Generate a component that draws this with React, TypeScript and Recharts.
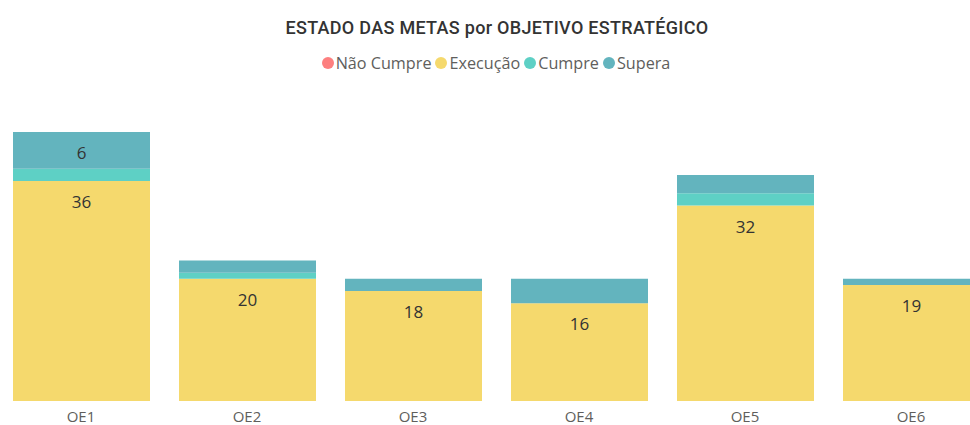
import React from 'react';
import { BarChart, Bar, XAxis, YAxis, LabelList, Legend } from 'recharts';

const categories = ['OE1', 'OE2', 'OE3', 'OE4', 'OE5', 'OE6'];
const naoCumpre = [0, 0, 0, 0, 0, 0];
const execucao = [36, 20, 18, 16, 32, 19];
const cumpre = [2, 1, 0, 0, 2, 0];
const supera = [6, 2, 2, 4, 3, 1];

const seriesNames = ['Não Cumpre', 'Execução', 'Cumpre', 'Supera'];
const seriesKeys = ['naoCumpre', 'execucao', 'cumpre', 'supera'];
const seriesColors = ['#FD7F7F', '#F5D96D', '#5ED0C5', '#63B4BE'];

const data = categories.map((c, i) => ({
  name: c,
  naoCumpre: naoCumpre[i],
  execucao: execucao[i],
  cumpre: cumpre[i],
  supera: supera[i],
}));

const LegendContent = () => (
  <div style={{ display: 'flex', justifyContent: 'center', alignItems: 'center', fontFamily: 'Open Sans, sans-serif', fontSize: 16.2, color: '#605E5C', lineHeight: '20px' }}>
    {seriesNames.map((n, i) => (
      <div key={n} style={{ display: 'flex', alignItems: 'center', marginRight: i < seriesNames.length - 1 ? 4 : 0 }}>
        <span style={{ display: 'inline-block', width: 12, height: 12, borderRadius: 6, background: seriesColors[i], marginRight: 2 }} />
        <span>{n}</span>
      </div>
    ))}
  </div>
);

export default function App() {
  return (
    <div style={{ position: 'fixed', left: 0, top: 0, width: 970, height: 425, overflow: 'hidden', background: '#fff' }}>
      <div style={{ position: 'absolute', left: 0, top: 17, width: 994, textAlign: 'center', fontFamily: 'Roboto, sans-serif', fontWeight: 500, fontSize: 18, lineHeight: '22px', color: '#333', letterSpacing: 0.3 }}>
        ESTADO DAS METAS por OBJETIVO ESTRATÉGICO
      </div>
      <div style={{ position: 'absolute', left: -2, top: 0 }}>
        <BarChart width={996} height={425} data={data} margin={{ top: 126, right: 0, bottom: 0, left: 0 }} barSize={137}>
          <XAxis dataKey="name" height={24} tickLine={false} axisLine={false} tickSize={0} tickMargin={10}
            tick={{ fontFamily: 'Open Sans, sans-serif', fontSize: 15, fill: '#605E5C' }} interval={0} />
          <YAxis hide domain={[0, 45]} />
          <Legend layout="horizontal" verticalAlign="middle" align="center" content={<LegendContent />}
            wrapperStyle={{ top: 53, left: 0, width: 996 }} />
          {seriesKeys.map((k, i) => (
            <Bar key={k} dataKey={k} name={seriesNames[i]} stackId="a" fill={seriesColors[i]} isAnimationActive={false}>
              {k === 'execucao' && (
                <LabelList dataKey={k} position="insideTop" offset={15}
                  style={{ fontFamily: 'Open Sans, sans-serif', fontSize: 17, fill: '#333' }} />
              )}
              {k === 'supera' && (
                <LabelList dataKey={k} position="insideTop" offset={15}
                  formatter={(v: any) => (v >= 5 ? v : '')}
                  style={{ fontFamily: 'Open Sans, sans-serif', fontSize: 17, fill: '#333' }} />
              )}
            </Bar>
          ))}
        </BarChart>
      </div>
    </div>
  );
}
